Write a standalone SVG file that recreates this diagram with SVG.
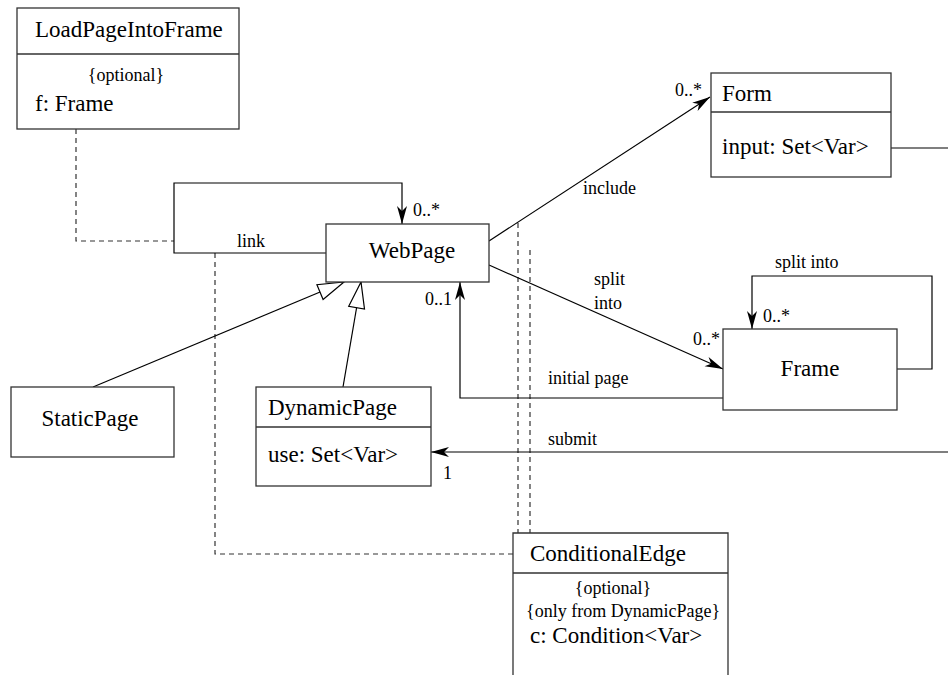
<svg xmlns="http://www.w3.org/2000/svg" width="948" height="675" viewBox="0 0 948 675" font-family="Liberation Serif">
<defs>
<marker id="arr" markerUnits="userSpaceOnUse" markerWidth="20" markerHeight="12" viewBox="-19 -6 20 12" refX="0" refY="0" orient="auto">
<path d="M0,0 L-18,-5 L-13,0 L-18,5 Z" fill="#000" stroke="none"/>
</marker>
<marker id="gen" markerUnits="userSpaceOnUse" markerWidth="30" markerHeight="20" viewBox="-29 -10 30 20" refX="0" refY="0" orient="auto">
<path d="M0,0 L-26,-8 L-26,8 Z" fill="#fff" stroke="#000" stroke-width="1.2" stroke-dasharray="none"/>
</marker>
</defs>
<g id="connectors">
<g fill="none" stroke="#333" stroke-width="1.2" stroke-dasharray="5,4">
<path d="M76,129 L76,241 L174,241"/>
<path d="M215,253 L215,554 L513,554"/>
<path d="M518,223 L518,533"/>
<path d="M530,250 L530,533"/>
</g>
<g fill="none" stroke="#000" stroke-width="1.2">
<path d="M326,253 L174,253 L174,183 L402,183 L402,224" marker-end="url(#arr)"/>
<path d="M489,241 L710,97" marker-end="url(#arr)"/>
<path d="M489,265 L723,369" marker-end="url(#arr)"/>
<path d="M723,398 L460,398 L460,282" marker-end="url(#arr)"/>
<path d="M897,369 L932,369 L932,276 L752,276 L752,329" marker-end="url(#arr)"/>
<path d="M891,148 L948,148"/>
<path d="M948,452 L431,452" marker-end="url(#arr)"/>
<path d="M93,387 L344,282" marker-end="url(#gen)"/>
<path d="M343,387 L361,282" marker-end="url(#gen)"/>
</g>
<g font-size="18" fill="#000">
<text x="413" y="216">0..*</text>
<text x="237" y="247">link</text>
<text x="675" y="96">0..*</text>
<text x="583" y="194">include</text>
<text x="594" y="285">split</text>
<text x="594" y="309">into</text>
<text x="693" y="345">0..*</text>
<text x="775" y="268">split into</text>
<text x="763" y="322">0..*</text>
<text x="548" y="384">initial page</text>
<text x="425" y="305">0..1</text>
<text x="548" y="445">submit</text>
<text x="443" y="479">1</text>
</g>
</g>
<g id="LoadPageIntoFrame" font-size="23">
<rect x="17" y="8" width="222" height="121" fill="#fff" stroke="#333" stroke-width="1.3"/>
<line x1="17" y1="54" x2="239" y2="54" stroke="#333" stroke-width="1.3"/>
<text x="35" y="37">LoadPageIntoFrame</text>
<text x="126" y="81" font-size="18" text-anchor="middle">{optional}</text>
<text x="35" y="111">f: Frame</text>
</g>
<g id="WebPage" font-size="23">
<rect x="326" y="224" width="163" height="58" fill="#fff" stroke="#333" stroke-width="1.3"/>
<text x="412" y="258" text-anchor="middle">WebPage</text>
</g>
<g id="Form" font-size="23">
<rect x="711" y="73" width="180" height="104" fill="#fff" stroke="#333" stroke-width="1.3"/>
<line x1="711" y1="112" x2="891" y2="112" stroke="#333" stroke-width="1.3"/>
<text x="722" y="101">Form</text>
<text x="722" y="154">input: Set&lt;Var&gt;</text>
</g>
<g id="Frame" font-size="23">
<rect x="723" y="329" width="174" height="81" fill="#fff" stroke="#333" stroke-width="1.3"/>
<text x="810" y="376" text-anchor="middle">Frame</text>
</g>
<g id="StaticPage" font-size="23">
<rect x="11" y="387" width="163" height="70" fill="#fff" stroke="#333" stroke-width="1.3"/>
<text x="90" y="426" text-anchor="middle">StaticPage</text>
</g>
<g id="DynamicPage" font-size="23">
<rect x="256" y="387" width="175" height="99" fill="#fff" stroke="#333" stroke-width="1.3"/>
<line x1="256" y1="427" x2="431" y2="427" stroke="#333" stroke-width="1.3"/>
<text x="268" y="415">DynamicPage</text>
<text x="268" y="462">use: Set&lt;Var&gt;</text>
</g>
<g id="ConditionalEdge" font-size="23">
<path d="M513,676 L513,533 L728,533 L728,676" fill="#fff" stroke="#333" stroke-width="1.3"/>
<line x1="513" y1="573" x2="728" y2="573" stroke="#333" stroke-width="1.3"/>
<text x="530" y="561">ConditionalEdge</text>
<text x="613" y="594" font-size="18" text-anchor="middle">{optional}</text>
<text x="526" y="617" font-size="18">{only from DynamicPage}</text>
<text x="530" y="643">c: Condition&lt;Var&gt;</text>
</g>
</svg>
